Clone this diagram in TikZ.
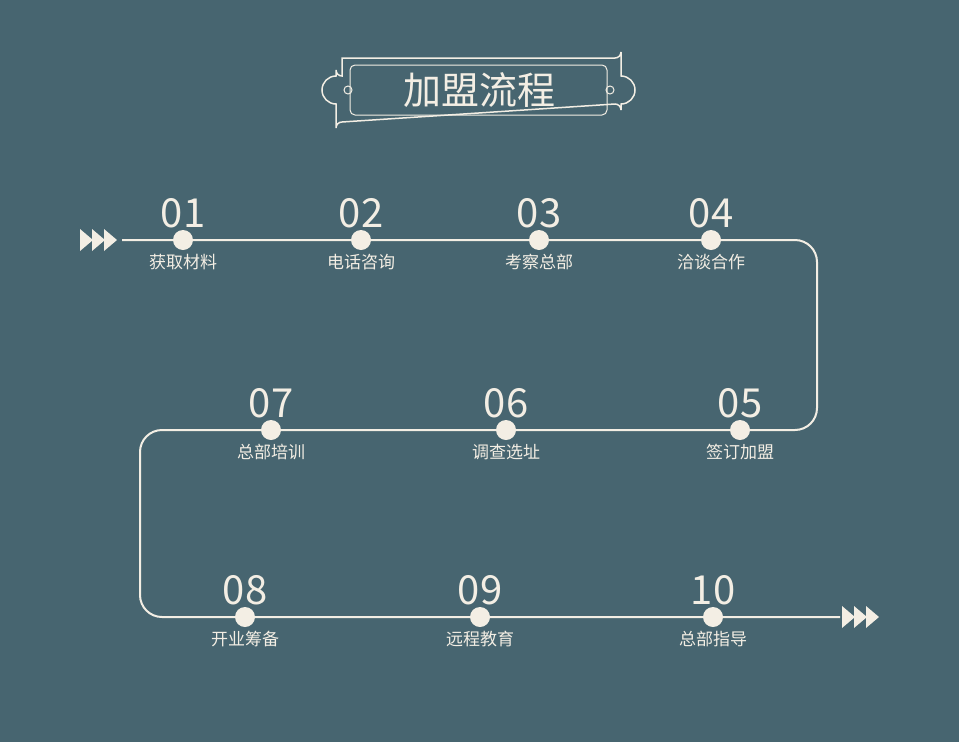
\documentclass[tikz,border=0pt]{standalone}
\usepackage{fontspec}
\setmainfont{Noto Sans CJK SC}
\definecolor{bg}{HTML}{476570}
\definecolor{cream}{HTML}{F3EEE4}
\tikzset{
  dot/.style={circle,fill=cream,inner sep=0pt,minimum size=20pt},
  num/.style={text=cream,font=\fontsize{40}{40}\selectfont,above=8pt},
  lab/.style={text=cream,font=\fontsize{17}{17}\selectfont,below=11pt},
  tri/.style={fill=cream,draw=none},
}
\begin{document}
\begin{tikzpicture}[x=1pt,y=-1pt]
\fill[bg] (0,0) rectangle (959,742);
\useasboundingbox (0,0) rectangle (959,742);
% title frame
\draw[cream,line width=1.5pt] (342,58) -- (615,58) arc[start angle=90,end angle=0,radius=6] -- (621,76)
  arc[start angle=-90,end angle=90,radius=14] -- (621,110) arc[start angle=0,end angle=-90,radius=6]
  -- (342,122) arc[start angle=270,end angle=180,radius=6] -- (336,104)
  arc[start angle=90,end angle=270,radius=14] -- (336,70) arc[start angle=180,end angle=90,radius=6] -- cycle;
\draw[cream,line width=1pt,rounded corners=5pt] (350,65) rectangle (607,115);
\draw[cream,line width=1pt] (348,90) circle[radius=4];
\draw[cream,line width=1pt] (610,90) circle[radius=4];
\node[text=cream,font=\fontsize{38}{38}\selectfont] (title) at (479,90) {加盟流程};
% path
\coordinate (start) at (122,240);
\coordinate (end) at (840,617);
\draw[cream,line width=2pt,rounded corners=22pt] (start) -- (817,240) -- (817,430) -- (140,430) -- (140,617) -- (end);
% steps
\foreach \x/\y/\n/\t in {183/240/01/获取材料,361/240/02/电话咨询,539/240/03/考察总部,711/240/04/洽谈合作,
  740/430/05/签订加盟,506/430/06/调查选址,271/430/07/总部培训,
  245/617/08/开业筹备,480/617/09/远程教育,713/617/10/总部指导}{
  \node[dot] (s\n) at (\x,\y) {};
  \node[num] at (s\n.center) {\n};
  \node[lab] at (s\n.center) {\t};
}
% arrow heads
\foreach \x in {80,92,104}{
  \fill[cream] (\x,229) -- (\x+13,240) -- (\x,251) -- cycle;
}
\foreach \x in {842,854,866}{
  \fill[cream] (\x,606) -- (\x+13,617) -- (\x,628) -- cycle;
}
\end{tikzpicture}
\end{document}
